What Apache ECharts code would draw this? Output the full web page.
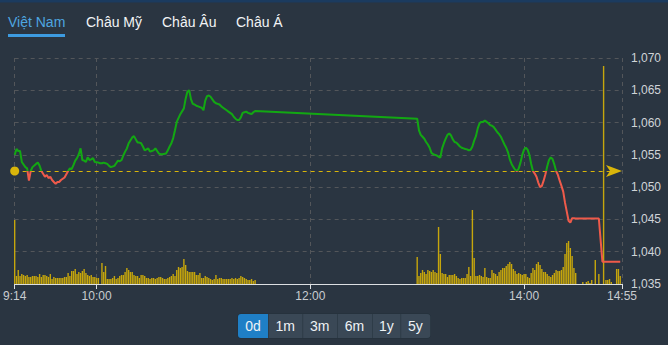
<!DOCTYPE html>
<html><head><meta charset="utf-8">
<script src="https://cdn.jsdelivr.net/npm/echarts@6/dist/echarts.min.js"></script>
<style>html,body{margin:0;padding:0;background:#2a3541;}#c{width:668px;height:345px;}</style>
</head><body><div id="c"></div>
<script>
const tabs = ["Việt Nam", "Châu Mỹ", "Châu Âu", "Châu Á"];
const ranges = ["0d", "1m", "3m", "6m", "1y", "5y"];
const xTickLabels = ["9:14", "10:00", "12:00", "14:00", "14:55"];
const refPrice = 1052.5;
const priceMin = 1035, priceMax = 1070, priceStep = 5;

const priceMorning = [
["9:14",1055.0],["9:15",1055.9],["9:16",1055.6],["9:17",1055.6],["9:18",1053.9],["9:20",1053.1],["9:21",1052.9],["9:22",1051.0],["9:23",1052.5],["9:24",1053.1],["9:26",1053.6],["9:27",1053.8],["9:28",1053.3],["9:29",1052.5],["9:31",1051.6],["9:32",1051.9],["9:33",1051.4],["9:34",1051.6],["9:35",1051.1],["9:36",1050.8],["9:37",1050.5],["9:38",1050.8],["9:39",1050.8],["9:40",1051.1],["9:42",1051.5],["9:43",1052.0],["9:44",1052.5],["9:45",1052.9],["9:46",1052.8],["9:47",1053.4],["9:48",1054.1],["9:49",1054.5],["9:50",1055.1],["9:51",1056.0],["9:52",1054.2],["9:53",1054.1],["9:54",1053.9],["9:55",1054.6],["9:56",1054.2],["9:57",1054.3],["9:58",1054.5],["9:59",1053.9],
["10:01",1053.8],["10:02",1053.7],["10:03",1053.7],["10:04",1053.8],["10:05",1053.7],["10:06",1053.6],["10:07",1053.3],["10:08",1053.1],["10:10",1053.3],["10:11",1053.7],["10:12",1054.1],["10:13",1054.0],["10:14",1054.2],["10:15",1054.9],["10:16",1055.5],["10:17",1056.0],["10:18",1056.8],["10:20",1057.7],["10:21",1057.9],["10:22",1057.4],["10:23",1056.9],["10:24",1056.9],["10:25",1056.8],["10:26",1056.3],["10:27",1055.7],["10:29",1056.0],["10:30",1055.5],["10:31",1055.6],["10:32",1055.7],["10:33",1056.0],["10:34",1055.6],["10:35",1055.2],["10:36",1055.1],["10:37",1055.1],["10:39",1055.2],["10:40",1055.7],["10:41",1056.3],["10:42",1056.8],["10:43",1057.6],["10:44",1058.8],["10:45",1060.1],["10:47",1061.3],["10:49",1062.2],["10:50",1063.7],["10:51",1064.8],["10:52",1065.0],["10:53",1063.6],["10:54",1062.9],["10:55",1062.8],["10:56",1062.6],["10:57",1062.5],["10:58",1062.4],["10:59",1062.3],
["11:00",1061.9],["11:01",1063.4],["11:02",1064.1],["11:03",1064.2],["11:04",1064.0],["11:05",1063.6],["11:06",1063.2],["11:07",1063.0],["11:08",1062.9],["11:09",1062.8],["11:10",1062.5],["11:11",1062.3],["11:12",1062.1],["11:13",1061.9],["11:14",1061.7],["11:15",1061.5],["11:16",1061.3],["11:17",1060.9],["11:18",1060.6],["11:19",1060.4],["11:20",1060.4],["11:21",1060.8],["11:22",1061.5],["11:23",1061.6],["11:24",1061.7],["11:25",1061.5],["11:26",1061.4],["11:27",1061.3],["11:28",1061.6],["11:29",1061.8]
];

const priceAfternoon = [
["13:00",1060.6],["13:01",1058.8],["13:02",1058.1],["13:03",1057.8],["13:04",1057.5],["13:05",1057.0],["13:06",1056.6],["13:07",1056.1],["13:08",1055.3],["13:09",1055.1],["13:10",1055.0],["13:11",1054.9],["13:12",1054.7],["13:13",1054.6],["13:14",1056.0],["13:15",1056.8],["13:16",1057.5],["13:17",1058.1],["13:18",1058.3],["13:19",1058.0],["13:20",1057.4],["13:21",1057.0],["13:22",1056.9],["13:23",1056.6],["13:24",1056.3],["13:25",1056.1],["13:26",1056.0],["13:27",1055.9],["13:28",1055.85],["13:29",1055.7],["13:30",1055.8],["13:31",1056.3],["13:32",1057.2],["13:33",1057.9],["13:34",1059.1],["13:35",1059.9],["13:36",1060.1],["13:37",1060.1],["13:38",1060.3],["13:39",1060.1],["13:40",1059.9],["13:41",1059.6],["13:42",1059.5],["13:43",1059.3],["13:44",1058.9],["13:45",1058.5],["13:46",1058.2],["13:47",1057.8],["13:48",1057.2],["13:49",1056.6],["13:50",1056.1],["13:51",1055.4],["13:52",1054.3],["13:53",1053.6],["13:54",1053.1],["13:55",1052.7],["13:56",1052.45],["13:57",1052.9],["13:58",1053.8],["13:59",1055.0],
["14:00",1055.8],["14:01",1056.1],["14:02",1055.8],["14:03",1055.0],["14:04",1053.6],["14:05",1052.5],["14:06",1052.1],["14:07",1051.6],["14:08",1050.7],["14:09",1050.0],["14:10",1050.2],["14:11",1051.0],["14:12",1052.0],["14:13",1053.2],["14:14",1054.2],["14:15",1054.6],["14:16",1054.35],["14:17",1053.5],["14:18",1052.5],["14:19",1051.9],["14:20",1051.0],["14:21",1050.2],["14:22",1049.3],["14:23",1047.6],["14:24",1046.2],["14:25",1044.8],["14:26",1044.5],["14:27",1045.2],["14:28",1045.2],["14:29",1045.15]
];

const priceClose = [["14:42",1045.15],["14:44",1038.45],["14:54",1038.45]];

// volumes (one bar per minute from the start time)
const volStartA = "9:14";
const volA = [64,8,14,8,10,9,8,9,7,7,8,8,8,7,10,7,9,9,8,7,10,5,7,6,6,6,6,6,7,7,11,8,13,13,15,10,12,11,13,15,11,9,8,9,7,7,6,6];
const volStartB = "10:03";
const volB = [21,12,18,5,5,5,6,8,5,6,8,9,9,12,16,14,12,12,9,8,8,6,9,9,8,6,6,5,6,6,5,6,7,7,6,5,5,6,7,8,10,8,14,17,16,17,25,19,13,12,12,12,12,9,9,11,6,6,8,7,6,5,
4,5,9,5,6,6,5,5,5,5,5,6,5,6,5,6,8,7,6,5,4,4,5,3,4];
const volStartC = "13:00";
const volC = [27,8,11,14,12,10,14,13,12,14,12,11,57,30,11,10,10,7,9,9,9,10,8,6,5,6,6,6,10,17,8,74,26,8,8,9,8,7,16,7,6,6,14,11,10,8,12,14,16,16,18,20,22,20,15,13,10,11,10,9,10,10,7,6,11,16,14,20,22,19,15,12,12,10,8,7,9,11,14,13,13,14,17,30,41,43,36,28,16,11];
const volLate = [["14:33",2],["14:35",2],["14:36",3],["14:37",1],["14:38",4],["14:40",24],["14:42",10],["14:44:40",218],["14:46",4],["14:47",4],["14:48",5],["14:49",2],["14:52",15],["14:53",15],["14:54",8]];

function toMin(s){const p=s.split(':').map(Number);return p[0]*60+p[1]+(p[2]||0)/60;}

const lineData = priceMorning.concat(priceAfternoon, priceClose).map(d => [toMin(d[0]), d[1]]);
const volData = [];
[[volStartA, volA], [volStartB, volB], [volStartC, volC]].forEach(([st, arr]) => {
  const s = toMin(st);
  arr.forEach((v, i) => volData.push([s + i, v]));
});
volLate.forEach(d => volData.push([toMin(d[0]), d[1]]));

const xTickValues = xTickLabels.map(toMin);
const FONT = '"Liberation Sans", Arial, sans-serif';
const GRID = {left: 12, right: 46, top: 58, bottom: 61};
const UP = '#12a812', DOWN = '#ef5a4a';

const chart = echarts.init(document.getElementById('c'), null, {renderer: 'svg'});

// split point of line colour (above / below reference price) along the y range
const splitT = (priceMax - refPrice) / (priceMax - priceMin);
const lineColor = {
  type: 'linear', x: 0, y: GRID.top, x2: 0, y2: 345 - GRID.bottom, global: true,
  colorStops: [{offset: 0, color: UP}, {offset: splitT, color: UP}, {offset: splitT, color: DOWN}, {offset: 1, color: DOWN}]
};

// top tabs + range buttons as graphic elements
const tabX = [8, 86, 162, 236];
const graphics = [
  {type: 'rect', shape: {x: 0, y: 0, width: 668, height: 2.5}, style: {fill: '#1b3b5f'}, silent: true}
];
tabs.forEach((t, i) => {
  graphics.push({type: 'text', left: tabX[i], top: 15, style: {text: t, fill: i === 0 ? '#4ea6e0' : '#f2f4f6', font: '14px ' + FONT}});
});
graphics.push({type: 'rect', shape: {x: 8, y: 34, width: 57, height: 3}, style: {fill: '#3d9be0'}});
const btnW = [30, 34.6, 34.4, 35, 28.6, 29.7];
let bx = 238;
graphics.push({type: 'rect', shape: {x: 237.5, y: 313.5, width: 193, height: 25, r: 3}, style: {fill: '#23303b'}});
ranges.forEach((r, i) => {
  const w = btnW[i];
  const r4 = i === 0 ? [3, 0, 0, 3] : (i === ranges.length - 1 ? [0, 3, 3, 0] : 0);
  graphics.push({type: 'rect', shape: {x: bx + (i ? 0.5 : 0), y: 314, width: w - (i ? 0.5 : 0), height: 24, r: r4},
    style: {fill: i === 0 ? '#1f7fc6' : '#3a4856'}});
  graphics.push({type: 'text', x: bx + w / 2, y: 326, style: {text: r, fill: '#eef2f5', font: '14px ' + FONT, align: 'center', verticalAlign: 'middle'}});
  bx += w;
});

chart.setOption({
  backgroundColor: '#2a3541',
  animation: false,
  textStyle: {fontFamily: FONT},
  grid: GRID,
  xAxis: {
    type: 'value', min: toMin(xTickLabels[0]), max: toMin(xTickLabels[xTickLabels.length - 1]),
    axisLine: {lineStyle: {color: '#dcdfe2', width: 1}},
    axisTick: {show: true, customValues: xTickValues, length: 5, lineStyle: {color: '#dcdfe2'}},
    axisLabel: {customValues: xTickValues, color: '#c8ccd0', fontSize: 12, margin: 6,
      formatter: v => xTickLabels[xTickValues.findIndex(t => Math.abs(t - v) < 0.01)] || ''},
    splitLine: {show: true, lineStyle: {color: '#53565a', type: [4, 4], width: 1}}
  },
  yAxis: [{
    type: 'value', position: 'right', min: priceMin, max: priceMax, interval: priceStep,
    axisLine: {show: false}, axisTick: {show: false},
    axisLabel: {color: '#d0d4d8', fontSize: 12, margin: 9, formatter: v => v.toLocaleString('en-US')},
    splitLine: {lineStyle: {color: '#53565a', type: [4, 4], width: 1}}
  }, {type: 'value', min: 0, max: 226, show: false}],
  graphic: graphics,
  series: [{
    type: 'bar', xAxisIndex: 0, yAxisIndex: 1, data: volData, barWidth: 1.4, z: 2,
    itemStyle: {color: '#c6a60c'}
  }, {
    type: 'line', data: lineData, symbol: 'none', showSymbol: false, z: 5,
    lineStyle: {width: 2, color: lineColor},
    markLine: {silent: true, symbol: ['circle', 'arrow'], symbolSize: [9, 16], label: {show: false},
      lineStyle: {color: '#d9b50a', type: [4, 4], width: 1}, itemStyle: {color: '#d9b50a'},
      data: [{yAxis: refPrice}]}
  }]
});
</script>
</body></html>
